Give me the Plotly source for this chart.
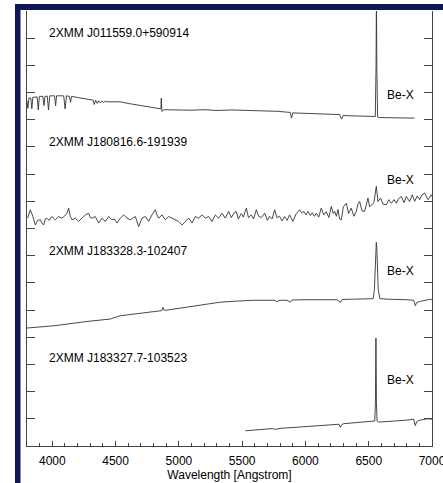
import plotly.graph_objects as go

# --- spectra (wavelength in Angstrom, offset flux in arbitrary units) ---
wl1 = [3800, 3807, 3815, 3830, 3838, 3846, 3880, 3889, 3898, 3925, 3934, 3942, 3960,
       3970, 3980, 4018, 4026, 4034, 4090, 4101, 4112, 4135, 4144, 4152, 4200, 4250,
       4300, 4322, 4332, 4342, 4355, 4365, 4378, 4392, 4405, 4420, 4432, 4470, 4537,
       4600, 4700, 4800, 4850, 4858, 4861, 4866, 4880, 5000, 5100, 5200, 5300,
       5415, 5550, 5677, 5780, 5850, 5880, 5890, 5900, 5910, 6050, 6206, 6270, 6285,
       6300, 6320, 6420, 6521, 6552, 6558, 6561, 6564, 6570, 6582, 6650, 6731, 6800, 6862]
fl1 = [12.70, 12.42, 12.80, 12.80, 12.40, 12.82, 12.84, 12.36, 12.86, 12.86, 12.52, 12.86, 12.87,
       12.36, 12.88, 12.88, 12.52, 12.88, 12.88, 12.40, 12.88, 12.86, 12.64, 12.86, 12.82, 12.78,
       12.74, 12.72, 12.56, 12.72, 12.60, 12.70, 12.62, 12.69, 12.64, 12.68, 12.66, 12.66, 12.66,
       12.60, 12.52, 12.46, 12.42, 12.40, 12.79, 12.30, 12.37, 12.36, 12.35, 12.37, 12.34,
       12.36, 12.35, 12.33, 12.31, 12.28, 12.27, 12.06, 12.26, 12.25, 12.23, 12.21, 12.19, 12.02,
       12.17, 12.15, 12.14, 12.12, 12.12, 14.0, 16.6, 14.0, 12.10, 12.08, 12.07, 12.06, 12.07, 12.06]

wl2 = [3805, 3826, 3846, 3866, 3885, 3905, 3918, 3931, 3945, 3958, 3975, 3997, 4024, 4050,
       4076, 4096, 4116, 4129, 4142, 4155, 4182, 4208, 4234, 4261, 4287, 4300, 4313, 4340,
       4366, 4392, 4419, 4445, 4471, 4490, 4511, 4537, 4564, 4577, 4590, 4616, 4636, 4656,
       4682, 4708, 4735, 4761, 4787, 4814, 4827, 4840, 4867, 4893, 4919, 4946, 4972, 4998,
       5025, 5051, 5077, 5104, 5130, 5156, 5183, 5209, 5235, 5262, 5288, 5314, 5341, 5367,
       5393, 5414, 5440, 5454, 5470, 5493, 5510, 5533, 5550, 5572, 5590, 5612, 5630, 5651,
       5678, 5700, 5717, 5737, 5757, 5775, 5796, 5815, 5836, 5855, 5875, 5901, 5928, 5954,
       5970, 5988, 6005, 6020, 6038, 6054, 6070, 6086, 6105, 6125, 6145, 6165, 6185, 6204,
       6220, 6231, 6245, 6257, 6270, 6283, 6300, 6323, 6341, 6362, 6383, 6402, 6415, 6428,
       6447, 6468, 6481, 6494, 6507, 6520, 6541, 6560, 6573, 6594, 6613, 6639, 6658, 6679,
       6700, 6718, 6737, 6757, 6779, 6797, 6823, 6844, 6863, 6884, 6902, 6921, 6942, 6968,
       6995, 7008]
fl2 = [8.38, 8.69, 8.45, 8.13, 8.30, 8.32, 8.20, 8.13, 8.35, 8.38, 8.30, 8.44, 8.32, 8.44,
       8.38, 8.45, 8.56, 8.75, 8.45, 8.32, 8.38, 8.26, 8.38, 8.50, 8.56, 8.40, 8.38, 8.44,
       8.20, 8.38, 8.26, 8.44, 8.32, 8.35, 8.20, 8.38, 8.50, 8.42, 8.38, 8.32, 8.38, 8.44,
       8.07, 8.38, 8.44, 8.26, 8.50, 8.69, 8.50, 8.38, 8.50, 8.32, 8.44, 8.38, 8.32, 8.26,
       8.13, 8.26, 8.38, 8.20, 8.44, 8.38, 8.50, 8.38, 8.44, 8.26, 8.50, 8.38, 8.56, 8.38,
       8.63, 8.40, 8.60, 8.62, 8.35, 8.55, 8.42, 8.75, 8.40, 8.50, 8.35, 8.69, 8.45, 8.40,
       8.56, 8.30, 8.45, 8.35, 8.69, 8.40, 8.45, 8.28, 8.44, 8.30, 8.50, 8.26, 8.55, 8.69,
       8.58, 8.62, 8.50, 8.63, 8.48, 8.58, 8.45, 8.56, 8.42, 8.75, 8.50, 8.62, 8.40, 8.81,
       8.55, 8.63, 8.45, 8.70, 8.35, 8.32, 8.80, 8.93, 8.55, 8.75, 8.45, 8.63, 8.90, 8.99,
       8.65, 8.63, 8.90, 9.12, 8.80, 8.87, 8.95, 9.55, 8.99, 9.12, 8.90, 8.87, 9.06, 8.93,
       9.06, 8.93, 9.10, 9.18, 8.95, 9.18, 8.99, 9.24, 9.00, 9.20, 9.06, 9.24, 9.30, 9.06,
       9.24, 9.10]

wl3 = [3800, 4010, 4274, 4458, 4537, 4669, 4801, 4853, 4866, 4874, 4882, 4893, 5064, 5196,
       5327, 5459, 5591, 5760, 5775, 5790, 5854, 5880, 5895, 5986, 6118, 6249, 6276, 6290,
       6381, 6526, 6535, 6545, 6551, 6556, 6560, 6564, 6569, 6575, 6588, 6645, 6803, 6855,
       6868, 6880, 6908, 6987, 7000]
fl3 = [4.34, 4.42, 4.58, 4.67, 4.79, 4.86, 4.93, 4.97, 4.98, 5.10, 5.00, 4.99, 5.11, 5.20,
       5.29, 5.33, 5.36, 5.36, 5.30, 5.36, 5.36, 5.29, 5.37, 5.38, 5.39, 5.38, 5.28, 5.39,
       5.40, 5.40, 5.42, 5.75, 6.60, 7.30, 7.49, 7.30, 6.60, 5.75, 5.42, 5.40, 5.38, 5.36,
       5.16, 5.28, 5.32, 5.40, 5.38]

wl4 = [5525, 5600, 5670, 5740, 5760, 5801, 5870, 5933, 6000, 6065, 6130, 6196, 6265, 6276,
       6288, 6302, 6380, 6460, 6539, 6548, 6553, 6557, 6561, 6566, 6578, 6650, 6723, 6800,
       6855, 6868, 6880, 6895, 6960, 7000]
fl4 = [0.56, 0.59, 0.62, 0.64, 0.61, 0.65, 0.67, 0.69, 0.71, 0.75, 0.76, 0.78, 0.80, 0.69,
       0.79, 0.82, 0.85, 0.88, 0.90, 0.92, 1.60, 3.97, 1.60, 0.92, 0.88, 0.90, 0.92, 0.95,
       0.99, 0.75, 0.90, 0.94, 1.00, 0.99]

spectra = [(wl1, fl1), (wl2, fl2), (wl3, fl3), (wl4, fl4)]

# --- labels ---
names = ["2XMM J011559.0+590914", "2XMM J180816.6-191939",
         "2XMM J183328.3-102407", "2XMM J183327.7-103523"]
name_y = [15.19, 11.19, 7.19, 3.24]
class_label = "Be-X"
class_y = [12.91, 9.79, 6.42, 2.41]
name_x = 3960
class_x = 6632

x_ticks = [4000, 4500, 5000, 5500, 6000, 6500, 7000]
x_title = "Wavelength [Angstrom]"

FONT = "Liberation Sans, Arial, Helvetica, sans-serif"

fig = go.Figure()
for wl, fl in spectra:
    fig.add_trace(go.Scatter(x=wl, y=fl, mode="lines",
                             line=dict(color="#333333", width=0.9),
                             hoverinfo="skip", showlegend=False))

for txt, yv in zip(names, name_y):
    fig.add_annotation(x=name_x, y=yv, xref="x", yref="y", text=txt, showarrow=False,
                       xanchor="left", yanchor="middle",
                       font=dict(family=FONT, size=12, color="black"))
for yv in class_y:
    fig.add_annotation(x=class_x, y=yv, xref="x", yref="y", text=class_label,
                       showarrow=False, xanchor="left", yanchor="middle",
                       font=dict(family=FONT, size=12, color="black"))

# slide frame: navy band along the top and left side
L, R, T, B = 27, 11, 11, 37
W, H = 443, 483
pw, ph = W - L - R, H - T - B


def px(xp):
    return (xp - L) / pw


def py(yp):
    return (H - B - yp) / ph


navy = "#0f1758"
fig.add_shape(type="rect", xref="paper", yref="paper",
              x0=px(15), x1=px(443), y0=py(10), y1=py(4),
              fillcolor=navy, line=dict(width=0), layer="above")
fig.add_shape(type="rect", xref="paper", yref="paper",
              x0=px(15), x1=px(20.5), y0=py(483), y1=py(4),
              fillcolor=navy, line=dict(width=0), layer="above")

fig.update_layout(
    width=W, height=H,
    margin=dict(l=L, r=R, t=T, b=B, pad=0, autoexpand=False),
    paper_bgcolor="white", plot_bgcolor="white",
    font=dict(family=FONT, size=12, color="black"),
    xaxis=dict(range=[3800, 7000], tickmode="array", tickvals=x_ticks,
               ticks="inside", ticklen=5, tickcolor="#444", tickwidth=1,
               minor=dict(dtick=100, ticks="inside", ticklen=3, tickcolor="#444"),
               showline=True, linecolor="#444", linewidth=1, mirror=False,
               showgrid=False, zeroline=False, ticklabeloverflow="allow",
               ticklabelstandoff=4, automargin=False,
               tickfont=dict(family=FONT, size=12, color="black"),
               title=dict(text=x_title, standoff=3,
                          font=dict(family=FONT, size=12, color="black"))),
    yaxis=dict(range=[0, 16], dtick=1, tick0=0, ticks="inside", ticklen=8,
               tickcolor="#444", tickwidth=1, showticklabels=False,
               showline=True, linecolor="#444", linewidth=1, mirror="ticks",
               showgrid=False, zeroline=False, automargin=False),
)

fig.write_html("out.html")
